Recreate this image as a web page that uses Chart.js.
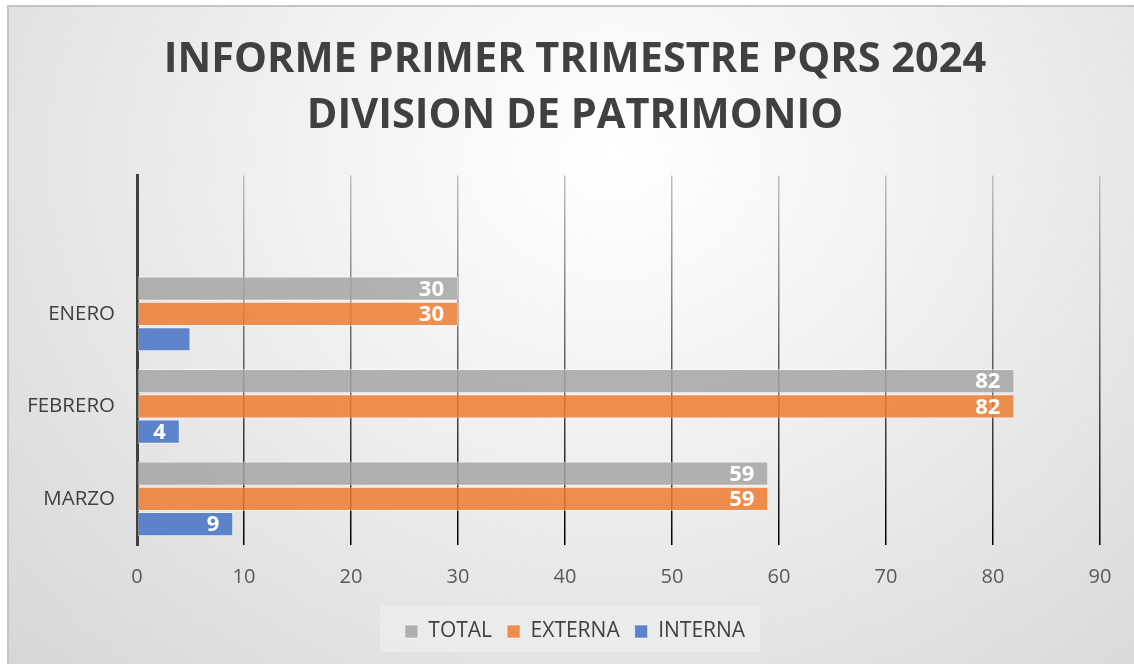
<!DOCTYPE html>
<html>
<head>
<meta charset="utf-8">
<script src="https://cdn.jsdelivr.net/npm/chart.js@4.4.1/dist/chart.umd.min.js"></script>
<style>
  html, body { margin: 0; padding: 0; background: #fff; overflow: hidden; }
  #frame {
    position: absolute; left: 7px; top: 5px; width: 1140px; height: 670px;
    border-left: 2px solid #c4c4c4; border-top: 2px solid #c4c4c4;
    background: radial-gradient(ellipse farthest-corner at 53% 22%, #ffffff 0%, #f2f2f2 35%, #d6d6d6 100%);
  }
  #wrap { position: absolute; left: 0; top: 0; width: 1134px; height: 664px; }
</style>
</head>
<body>
<div id="frame"></div>
<div id="wrap"><canvas id="chart" width="1134" height="664"></canvas></div>
<script>
// datos del informe (la primera categoria vacia deja el hueco de arriba)
const months = ['', 'ENERO', 'FEBRERO', 'MARZO'];
const total = [null, 30, 82, 59];
const externa = [null, 30, 82, 59];
const interna = [null, 5, 4, 9];
const xTicks = [0, 10, 20, 30, 40, 50, 60, 70, 80, 90];
const noLabelInterna = ['ENERO']; // en el original no tiene etiqueta

const FONT = '"Open Sans", "DejaVu Sans", sans-serif';

// etiquetas blancas al final de cada barra
const barLabels = {
  id: 'barLabels',
  afterDatasetsDraw(chart) {
    const ctx = chart.ctx;
    ctx.save();
    ctx.font = 'bold 22px ' + FONT;
    ctx.fillStyle = '#ffffff';
    ctx.textAlign = 'right';
    ctx.textBaseline = 'middle';
    chart.data.datasets.forEach((ds, i) => {
      const meta = chart.getDatasetMeta(i);
      meta.data.forEach((bar, j) => {
        const v = ds.data[j];
        if (v == null) return;
        if (ds.label === 'INTERNA' && noLabelInterna.includes(months[j])) return;
        ctx.fillText(String(v), bar.x - 14, bar.y + 1);
      });
    });
    ctx.restore();
  }
};

// fondo gris detras de la leyenda
const legendBox = {
  id: 'legendBox',
  beforeDraw(chart) {
    const lg = chart.legend;
    if (!lg || !lg.legendHitBoxes || !lg.legendHitBoxes.length) return;
    const boxes = lg.legendHitBoxes;
    const left = Math.min(...boxes.map(b => b.left)) - 25;
    const right = Math.max(...boxes.map(b => b.left + b.width)) + 15;
    const ctx = chart.ctx;
    ctx.save();
    ctx.fillStyle = 'rgba(235,235,235,0.9)';
    ctx.fillRect(left, 606, right - left, 46);
    ctx.restore();
  }
};

let gridGrad = null;
function gridColor(c) {
  const area = c.chart.chartArea;
  if (!area) return '#595959';
  if (c.index === 0) return 'rgba(0,0,0,0)';
  if (!gridGrad) {
    gridGrad = c.chart.ctx.createLinearGradient(0, area.top, 0, area.bottom);
    gridGrad.addColorStop(0, '#c0c0c0');
    gridGrad.addColorStop(1, '#000000');
  }
  return gridGrad;
}

new Chart(document.getElementById('chart'), {
  type: 'bar',
  data: {
    labels: months,
    datasets: [
      { label: 'TOTAL', data: total, backgroundColor: 'rgba(165,165,165,0.85)' },
      { label: 'EXTERNA', data: externa, backgroundColor: 'rgba(237,125,49,0.85)' },
      { label: 'INTERNA', data: interna, backgroundColor: 'rgba(68,114,196,0.85)' }
    ].map(d => Object.assign(d, {
      borderColor: 'rgba(255,255,255,0.55)',
      borderWidth: 1,
      borderSkipped: false,
      categoryPercentage: 0.82,
      barPercentage: 0.96
    }))
  },
  options: {
    indexAxis: 'y',
    responsive: false,
    animation: false,
    layout: { padding: { left: 16, right: 0, top: 0, bottom: 12 } },
    scales: {
      x: {
        min: 0,
        max: 90,
        afterBuildTicks: s => { s.ticks = xTicks.map(v => ({ value: v })); },
        grid: { color: gridColor, lineWidth: 1.5, drawTicks: false },
        border: { display: false },
        ticks: { color: '#595959', font: { family: FONT, size: 20 }, padding: 20 },
        afterFit: s => { s.height = 61; }
      },
      y: {
        grid: { display: false, drawTicks: false },
        border: { display: true, color: '#404040', width: 3 },
        ticks: { color: '#404040', font: { family: FONT, size: 20.5 }, padding: 22 },
        afterFit: s => { s.width = 121; }
      },
      // eje vacio a la derecha, solo para dejar el margen del original
      yRight: {
        type: 'category',
        position: 'right',
        grid: { display: false, drawTicks: false },
        border: { display: false },
        ticks: { display: false },
        afterFit: s => { s.width = 34; }
      }
    },
    plugins: {
      title: {
        display: true,
        text: ['INFORME PRIMER TRIMESTRE PQRS 2024', 'DIVISION DE PATRIMONIO'],
        color: '#404040',
        font: { family: FONT, size: 41.5, weight: 'bold', lineHeight: 1.33 },
        padding: { top: 33, bottom: 32 }
      },
      legend: {
        position: 'bottom',
        labels: {
          color: '#404040',
          font: { family: FONT, size: 21 },
          boxWidth: 13,
          boxHeight: 13,
          padding: 15
        }
      },
      tooltip: { enabled: false }
    }
  },
  plugins: [barLabels, legendBox]
});
</script>
</body>
</html>
